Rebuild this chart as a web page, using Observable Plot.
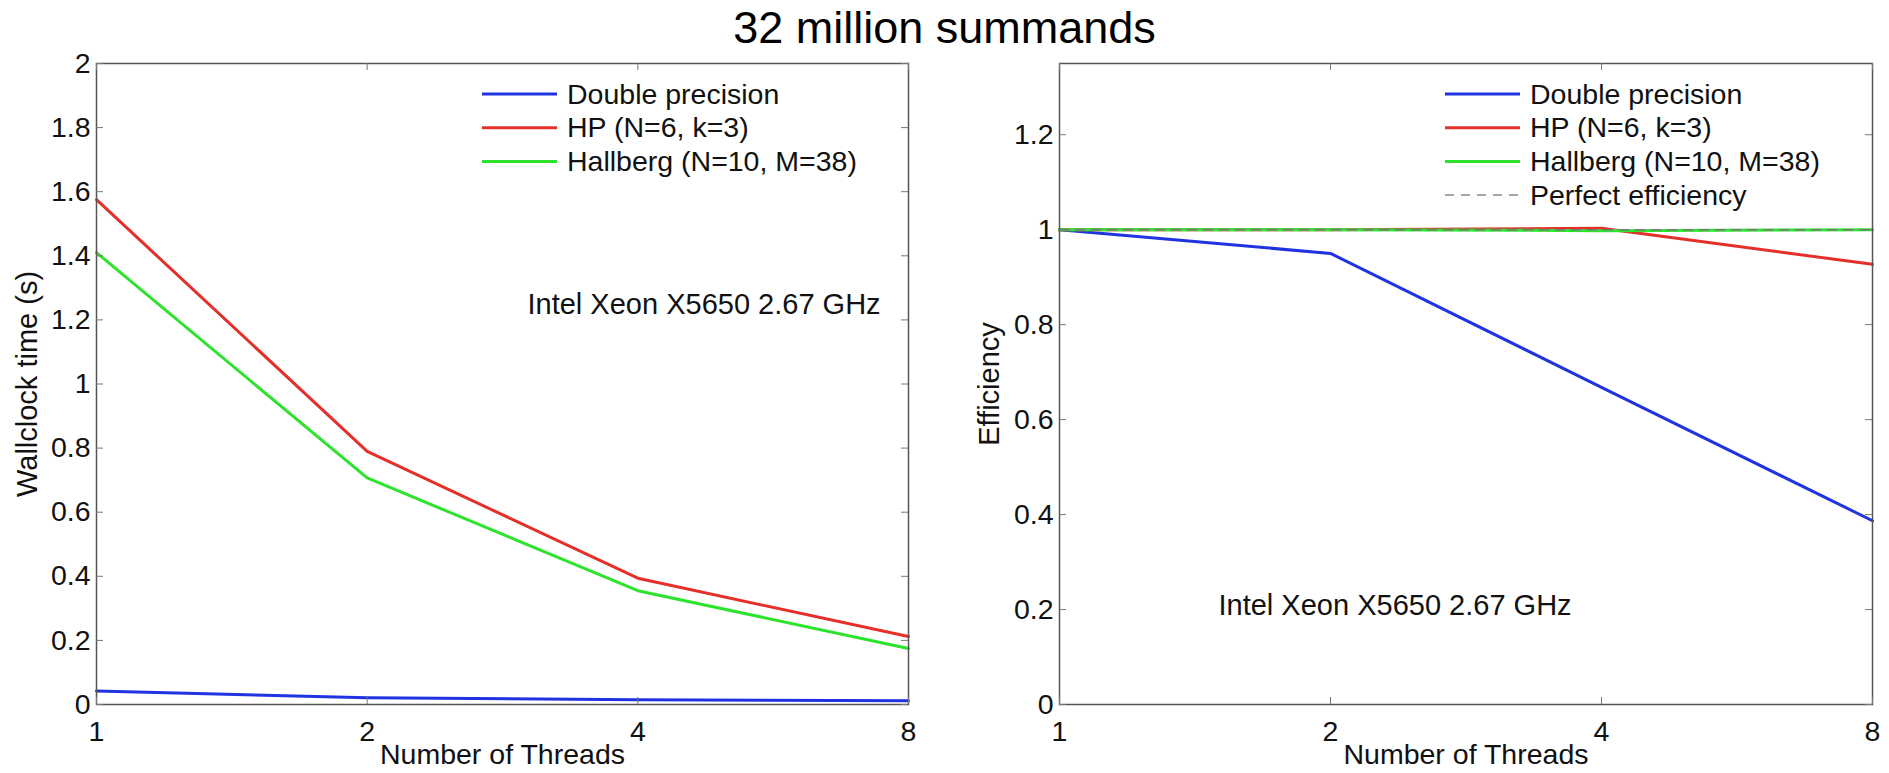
<!DOCTYPE html>
<html>
<head>
<meta charset="utf-8">
<script src="https://cdn.jsdelivr.net/npm/d3@7"></script>
<script src="https://cdn.jsdelivr.net/npm/@observablehq/plot@0.6"></script>
<style>
  html, body { margin: 0; padding: 0; background: #fff; }
  #wrap { width: 1889px; height: 773px; overflow: hidden; font-family: Arial, "Liberation Sans", sans-serif; background: #fff; }
  #title { position: relative; z-index: 2; box-sizing: border-box; height: 40px; padding-top: 15.5px; line-height: 24.5px; font-size: 45px; text-align: center; color: #000; white-space: nowrap; }
  #row { display: flex; position: relative; z-index: 1; }
  #row svg { display: block; }
</style>
</head>
<body>
<div id="wrap">
  <div id="title"></div>
  <div id="row"><div id="left"></div><div id="right"></div></div>
</div>
<script>
// ---- data ----
const titleText = "32 million summands";
const threads = [1, 2, 4, 8];
const seriesNames = ["Double precision", "HP (N=6, k=3)", "Hallberg (N=10, M=38)"];
const perfectName = "Perfect efficiency";
const seriesColors = ["#1f33e0", "#e5302a", "#2ee32e"];

const wallDouble   = [0.042, 0.021, 0.015, 0.012];
const wallHP       = [1.575, 0.790, 0.394, 0.212];
const wallHallberg = [1.410, 0.707, 0.355, 0.175];

const effDouble   = [1.000, 0.950, 0.668, 0.387];
const effHP       = [1.000, 1.000, 1.003, 0.927];
const effHallberg = [1.000, 1.000, 0.998, 1.000];
const effPerfect  = [1, 1, 1, 1];

const xTicks = [1, 2, 4, 8];
const yTicksTime = [0, 0.2, 0.4, 0.6, 0.8, 1, 1.2, 1.4, 1.6, 1.8, 2];
const yTicksEff = [0, 0.2, 0.4, 0.6, 0.8, 1, 1.2];
const xLabel = "Number of Threads";
const yLabelTime = "Wallclock time (s)";
const yLabelEff = "Efficiency";
const annotation = "Intel Xeon X5650 2.67 GHz";

document.getElementById("title").textContent = titleText;

function toRows(names, arrays) {
  const rows = [];
  names.forEach((name, k) => arrays[k].forEach((v, i) => rows.push({series: name, t: threads[i], v})));
  return rows;
}

function legendMark(items) {
  return (index, scales, values, dims) => {
    const g = d3.create("svg:g");
    items.forEach((it, i) => {
      const y = dims.marginTop + 31 + i * 33.7;
      g.append("line")
        .attr("x1", dims.marginLeft + 386).attr("x2", dims.marginLeft + 461)
        .attr("y1", y).attr("y2", y)
        .attr("stroke", it.color).attr("stroke-width", it.dash ? 1.5 : 3)
        .attr("stroke-dasharray", it.dash || null);
      g.append("text")
        .attr("x", dims.marginLeft + 471).attr("y", y + 9.5)
        .attr("text-anchor", "start")
        .attr("font-size", 28.5).attr("fill", "#111")
        .text(it.name);
    });
    return g.node();
  };
}

function panel({width, marginLeft, marginRight, yDomain, yTicks, yLabel, yLabelDx, rows, legendItems, annoDx, annoDy, extra}) {
  const height = 733, marginTop = 23, marginBottom = 69;
  const iw = width - marginLeft - marginRight;
  const ih = height - marginTop - marginBottom;
  return Plot.plot({
    width, height, marginLeft, marginRight, marginTop, marginBottom,
    style: {fontFamily: "Arial, 'Liberation Sans', sans-serif", fontSize: "28px", color: "#111", background: "transparent", overflow: "visible"},
    x: {type: "log", base: 2, domain: [1, 8]},
    y: {domain: yDomain},
    color: {domain: seriesNames, range: seriesColors},
    marks: [
      Plot.line(rows, {x: "t", y: "v", z: "series", stroke: "series", strokeWidth: 3}),
      ...(extra || []),
      Plot.frame({stroke: "#555", strokeWidth: 1.5}),
      Plot.tickY(yTicks, {y: d => d, insetRight: iw - 7, stroke: "#777"}),
      Plot.tickY(yTicks, {y: d => d, insetLeft: iw - 7, stroke: "#777"}),
      Plot.tickX(xTicks, {x: d => d, insetTop: ih - 7, stroke: "#777"}),
      Plot.tickX(xTicks, {x: d => d, insetBottom: ih - 7, stroke: "#777"}),
      Plot.axisY({ticks: yTicks, tickSize: 0, tickPadding: 6, label: null, fontSize: 28.5, tickFormat: d => String(d)}),
      Plot.axisX({ticks: xTicks, tickSize: 0, tickPadding: 16, label: null, fontSize: 28.5, tickFormat: d => String(d)}),
      Plot.text([yLabel], {text: d => d, frameAnchor: "left", textAnchor: "middle", lineAnchor: "middle", rotate: -90, dx: yLabelDx, fontSize: 29, fill: "#111"}),
      Plot.text([xLabel], {text: d => d, frameAnchor: "bottom", textAnchor: "middle", dy: 59, fontSize: 28.5, fill: "#111"}),
      Plot.text([annotation], {text: d => d, frameAnchor: "top-left", dx: annoDx, dy: annoDy, textAnchor: "start", lineAnchor: "bottom", fontSize: 29, fill: "#111"}),
      legendMark(legendItems)
    ]
  });
}

const baseItems = seriesNames.map((n, i) => ({name: n, color: seriesColors[i]}));

document.getElementById("left").append(panel({
  width: 960, marginLeft: 96, marginRight: 52,
  yDomain: [0, 2], yTicks: yTicksTime, yLabel: yLabelTime, yLabelDx: -69,
  rows: toRows(seriesNames, [wallDouble, wallHP, wallHallberg]),
  legendItems: baseItems,
  annoDx: 431, annoDy: 250
}));

const perfRows = threads.map((t, i) => ({t, v: effPerfect[i]}));
document.getElementById("right").append(panel({
  width: 929, marginLeft: 99, marginRight: 17,
  yDomain: [0, 1.35], yTicks: yTicksEff, yLabel: yLabelEff, yLabelDx: -70,
  rows: toRows(seriesNames, [effDouble, effHP, effHallberg]),
  legendItems: [...baseItems, {name: perfectName, color: "#888", dash: "9,7"}],
  annoDx: 159, annoDy: 551,
  extra: [Plot.line(perfRows, {x: "t", y: "v", stroke: "#777", strokeWidth: 1.5, strokeDasharray: "9,7"})]
}));
</script>
</body>
</html>
